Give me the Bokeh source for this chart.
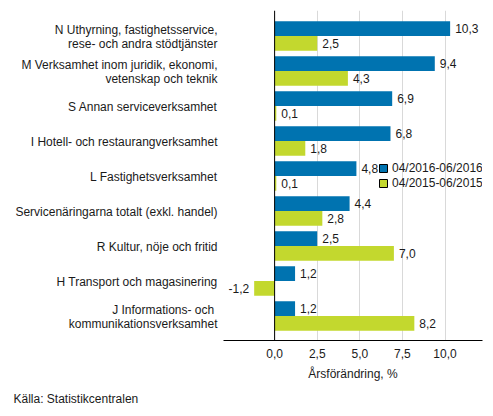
from bokeh.plotting import figure
from bokeh.models import (ColumnDataSource, Range1d, FixedTicker, CustomJSTickFormatter,
                          Span, Legend, LegendItem, Title)
from bokeh.core.properties import value
from bokeh.embed import file_html
from bokeh.resources import INLINE

categories = [
    "N Uthyrning, fastighetsservice,\nrese- och andra stödtjänster",
    "M Verksamhet inom juridik, ekonomi,\nvetenskap och teknik",
    "S Annan serviceverksamhet",
    "I Hotell- och restaurangverksamhet",
    "L Fastighetsverksamhet",
    "Servicenäringarna totalt (exkl. handel)",
    "R Kultur, nöje och fritid",
    "H Transport och magasinering",
    "J Informations- och \nkommunikationsverksamhet",
]
series_2016 = [10.3, 9.4, 6.9, 6.8, 4.8, 4.4, 2.5, 1.2, 1.2]
series_2015 = [2.5, 4.3, 0.1, 1.8, 0.1, 2.8, 7.0, -1.2, 8.2]
series_names = ["04/2016-06/2016", "04/2015-06/2015"]
x_ticks = [0, 2.5, 5, 7.5, 10]
source_text = "Källa: Statistikcentralen"

BLUE = "#0073b0"
GREEN = "#c3d82e"
FONT = "Liberation Sans"
TXT = "#1a1a1a"

idx = list(range(len(categories)))

def fmt(v):
    return f"{v:.1f}".replace(".", ",")

def make_src(vals, off):
    return ColumnDataSource(dict(
        y=[i + off for i in idx],
        v=vals,
        lab=[fmt(v) for v in vals],
        xo=[5 if v >= 0 else -5 for v in vals],
        al=["left" if v >= 0 else "right" for v in vals],
    ))

src_a = make_src(series_2016, -0.21)
src_b = make_src(series_2015, 0.21)

p = figure(width=493, height=416, output_backend="svg", toolbar_location=None,
           x_range=Range1d(-3, 12.2), y_range=Range1d(8.7, -0.73),
           min_border_left=223, min_border_right=11, min_border_top=10, min_border_bottom=76)
p.outline_line_color = None

p.hbar(y="y", right="v", left=0, height=0.42, source=src_a, fill_color=BLUE, line_color=None)
p.hbar(y="y", right="v", left=0, height=0.42, source=src_b, fill_color=GREEN, line_color=None)

for src in (src_a, src_b):
    p.text(x="v", y="y", text="lab", source=src, x_offset="xo", text_align="al",
           text_baseline="middle", text_font=value(FONT), text_font_size="12px",
           text_color=TXT)

p.add_layout(Span(location=0, dimension="height", line_color="black", line_width=1))

# x axis
xa = p.xaxis[0]
xa.ticker = FixedTicker(ticks=x_ticks)
xa.formatter = CustomJSTickFormatter(code="return tick.toFixed(1).replace('.', ',');")
xa.axis_label = "Årsförändring, %"
xa.axis_label_text_font = FONT
xa.axis_label_text_font_size = "12px"
xa.axis_label_text_font_style = "normal"
xa.axis_label_text_color = TXT
xa.axis_label_standoff = 6
xa.major_label_text_font = FONT
xa.major_label_text_font_size = "12px"
xa.major_label_text_color = TXT
xa.major_label_standoff = 8
xa.major_tick_out = 0
xa.major_tick_in = 0
xa.minor_tick_out = 0
xa.minor_tick_in = 0
xa.major_tick_line_color = None
xa.minor_tick_line_color = None
xa.axis_line_color = "black"

# y axis: each label line is its own tick so every line is right aligned
line_pos, line_txt = [], []
for i, c in enumerate(categories):
    parts = c.split("\n")
    n = len(parts)
    for k, t in enumerate(parts):
        line_pos.append(i + 0.03 + (k - (n - 1) / 2) * 0.38)
        line_txt.append(t)

ya = p.yaxis[0]
ya.ticker = FixedTicker(ticks=line_pos)
ya.formatter = CustomJSTickFormatter(args=dict(pos=line_pos, txt=line_txt), code="""
for (let k = 0; k < pos.length; k++) { if (Math.abs(pos[k] - tick) < 1e-6) return txt[k]; }
return '';
""")
ya.major_label_text_font = FONT
ya.major_label_text_font_size = "12px"
ya.major_label_text_color = TXT
ya.major_label_standoff = 6
ya.major_tick_out = 0
ya.major_tick_in = 0
ya.minor_tick_out = 0
ya.minor_tick_in = 0
ya.major_tick_line_color = None
ya.minor_tick_line_color = None
ya.axis_line_color = None

p.xgrid.ticker = FixedTicker(ticks=x_ticks)
p.xgrid.grid_line_color = "#d9d9d9"
p.ygrid.visible = False

# legend (proxies with no visible position carry the bordered swatches)
nan = float("nan")
dummy_a = p.quad(left=[nan], right=[nan], top=[nan], bottom=[nan], fill_color=BLUE, line_color="black")
dummy_b = p.quad(left=[nan], right=[nan], top=[nan], bottom=[nan], fill_color=GREEN, line_color="black")
legend = Legend(items=[LegendItem(label=series_names[0], renderers=[dummy_a]),
                       LegendItem(label=series_names[1], renderers=[dummy_b])],
                location=(155, 150), padding=0, margin=0, spacing=0,
                glyph_width=10, glyph_height=10, label_height=15, label_standoff=4,
                label_text_font=FONT, label_text_font_size="12px", label_text_color=TXT,
                border_line_color=None, background_fill_alpha=0)
p.add_layout(legend, "center")

src_title = Title(text=source_text, align="left", offset=-210, text_font=FONT,
                  text_font_size="12px", text_font_style="normal", text_color=TXT,
                  standoff=12)
p.add_layout(src_title, "below")

open("out.html", "w").write(file_html(p, INLINE))
